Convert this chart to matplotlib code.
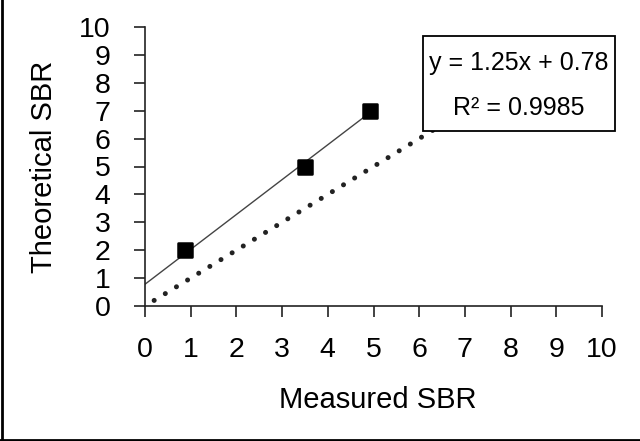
import matplotlib.pyplot as plt
from matplotlib.lines import Line2D
from matplotlib.markers import MarkerStyle

plt.rcParams["font.family"] = ["Liberation Sans", "DejaVu Sans"]

# data
measured = [0.88, 3.5, 4.92]
theoretical = [2.0, 5.0, 7.0]
slope, intercept = 1.25, 0.78
r2 = 0.9985
ticks = list(range(0, 11))
identity_x = [0.2, 6.3]

fig = plt.figure(figsize=(6.4, 4.41), dpi=100)
ax = fig.add_axes([145 / 640, 1 - 306 / 441, 457 / 640, 279 / 441])

# trendline
fit_x = [0, measured[-1]]
fit_y = [slope * x + intercept for x in fit_x]
ax.plot(fit_x, fit_y, color="#444444", lw=1.0, zorder=2)

# identity line (dotted)
ax.plot(identity_x, identity_x, color="#222222", lw=3.6,
        linestyle=(0, (0.01, 2.6)), dash_capstyle="round", zorder=2)

# points (square with rounded corners)
ax.plot(measured, theoretical, linestyle="none",
        marker=MarkerStyle("s", joinstyle="round"), color="black",
        markersize=10, markeredgewidth=1.8, markeredgecolor="black", zorder=3)

ax.set_xlim(0, 10)
ax.set_ylim(0, 10)
ax.set_xticks(ticks)
ax.set_yticks(ticks)
ax.spines["top"].set_visible(False)
ax.spines["right"].set_visible(False)
for s in ["left", "bottom"]:
    ax.spines[s].set_linewidth(1.2)
    ax.spines[s].set_color("#222222")
ax.tick_params(axis="x", length=8, width=1.2, pad=14, labelsize=20.5, color="#222222")
ax.tick_params(axis="y", length=8, width=1.2, pad=17, labelsize=20.5, color="#222222")

ax.set_xlabel("Measured SBR", fontsize=21)
ax.set_ylabel("Theoretical SBR", fontsize=21)
ax.xaxis.set_label_coords(0.51, -0.285)
ax.yaxis.set_label_coords(-0.19, 0.5)

# equation box
box = plt.Rectangle((0.608, 0.627), 0.42, 0.341, transform=ax.transAxes,
                    facecolor="white", edgecolor="black", lw=1.3,
                    zorder=5, clip_on=False)
ax.add_patch(box)
ax.text(0.818, 0.87, f"y = {slope}x + {intercept}", transform=ax.transAxes,
        ha="center", va="center", fontsize=18, zorder=6)
ax.text(0.818, 0.71, f"R² = {r2}", transform=ax.transAxes,
        ha="center", va="center", fontsize=18, zorder=6)

# figure frame (left and bottom edges visible)
fig.add_artist(Line2D([0.003, 0.003], [0, 1], transform=fig.transFigure,
                      color="black", lw=2))
fig.add_artist(Line2D([0, 1], [0.003, 0.003], transform=fig.transFigure,
                      color="black", lw=2))

fig.savefig("out.png", dpi=100)
